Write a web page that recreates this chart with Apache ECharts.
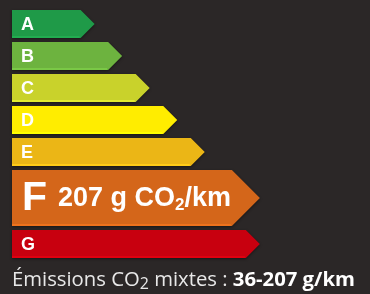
<!DOCTYPE html>
<html>
<head>
<meta charset="utf-8">
<script src="https://cdn.jsdelivr.net/npm/echarts@6/dist/echarts.min.js"></script>
<style>
  html, body { margin: 0; padding: 0; background: #2b2727; }
  #chart { width: 370px; height: 294px; }
</style>
</head>
<body>
<div id="chart"></div>
<script>
// Classes énergétiques et longueur de chaque flèche (unités de l'axe x)
const classes = ['A', 'B', 'C', 'D', 'E', 'F', 'G'];
const longueurs = [3, 4, 5, 6, 7, 9, 9];
// Classe du véhicule + valeur affichée
const classeActive = 'F';
const valeurActive = 207;
const plage = [36, 207];

// Palette (une couleur par classe)
const palette = ['#1f9a48', '#6db33f', '#c9d22b', '#ffed00', '#ebb616', '#d4661a', '#c8000f'];

const idxActive = classes.indexOf(classeActive);
const HAUTEUR_BARRE = 0.875; // part de la ligne occupée par la flèche

// position de départ d'une ligne (la classe active prend presque deux lignes)
function debutLigne(i) {
    return i + (i > idxActive ? 0.875 : 0);
}
function tailleLigne(i) {
    return i === idxActive ? 1.875 : 1;
}

const chart = echarts.init(document.getElementById('chart'));

chart.setOption({
    backgroundColor: '#2b2727',
    animation: false,
    grid: { left: 12, right: 0, top: 10, bottom: 32 },
    xAxis: { type: 'value', min: 0, max: 13, show: false },
    yAxis: { type: 'value', min: 0, max: debutLigne(classes.length - 1) + 1, inverse: true, show: false },
    series: [{
        type: 'custom',
        data: classes.map((c, i) => [i, longueurs[i]]),
        encode: { x: 1, y: 0 },
        renderItem: function (params, api) {
            const i = params.dataIndex;
            const haut = debutLigne(i);
            const bas = haut + tailleLigne(i) - (1 - HAUTEUR_BARRE);
            const p0 = api.coord([0, haut]);
            const p1 = api.coord([api.value(1), bas]);
            const x0 = p0[0], y0 = p0[1], x1 = p1[0], y1 = p1[1];
            const pointe = (y1 - y0) / 2;
            const couleur = palette[i];
            const milieu = (y0 + y1) / 2;

            const enfants = [{
                type: 'polygon',
                shape: { points: [[x0, y0], [x1 - pointe, y0], [x1, milieu], [x1 - pointe, y1], [x0, y1]] },
                style: { fill: couleur, shadowBlur: 3, shadowColor: 'rgba(0,0,0,0.45)', shadowOffsetY: 1 }
            }, {
                type: 'rect',
                shape: { x: x0, y: y1 - 2, width: x1 - pointe - x0 - 1, height: 2 },
                style: { fill: echarts.color.lift(couleur, -0.12) }
            }];

            if (i === idxActive) {
                // grande lettre
                enfants.push({
                    type: 'text',
                    x: x0 + 10,
                    y: milieu + 1,
                    style: {
                        text: classes[i],
                        fontFamily: 'Liberation Sans', fontWeight: 'bold', fontSize: 41,
                        fill: '#fff', verticalAlign: 'middle'
                    }
                });
                // valeur CO2
                enfants.push({
                    type: 'text',
                    x: x0 + 46,
                    y: milieu + 1,
                    style: {
                        text: '{v|' + valeurActive + ' g CO}{s|2}{v|/km}',
                        verticalAlign: 'middle',
                        rich: {
                            v: { fontFamily: 'Liberation Sans', fontWeight: 'bold', fontSize: 27, fill: '#fff', lineHeight: 30 },
                            s: { fontFamily: 'Liberation Sans', fontWeight: 'bold', fontSize: 17, fill: '#fff', verticalAlign: 'bottom', lineHeight: 24 }
                        }
                    }
                });
            } else {
                enfants.push({
                    type: 'text',
                    x: x0 + 9,
                    y: milieu + 1,
                    style: {
                        text: classes[i],
                        fontFamily: 'Liberation Sans',
                        fontWeight: 'bold',
                        fontSize: 18,
                        fill: '#fff',
                        verticalAlign: 'middle'
                    }
                });
            }
            return { type: 'group', children: enfants };
        }
    }],
    graphic: [{
        type: 'text',
        left: 12,
        top: 270,
        style: {
            text: '{n|Émissions CO}{s|2}{n| mixtes : }{b|' + plage[0] + '-' + plage[1] + ' g/km}',
            rich: {
                n: { fontFamily: 'Open Sans', fontSize: 20.3, fill: '#e8e8e8', lineHeight: 24 },
                s: { fontFamily: 'Open Sans', fontSize: 16, fill: '#e8e8e8', verticalAlign: 'bottom', lineHeight: 20 },
                b: { fontFamily: 'Open Sans', fontWeight: 'bold', fontSize: 20.3, fill: '#ffffff', lineHeight: 24 }
            }
        }
    }]
});
</script>
</body>
</html>
